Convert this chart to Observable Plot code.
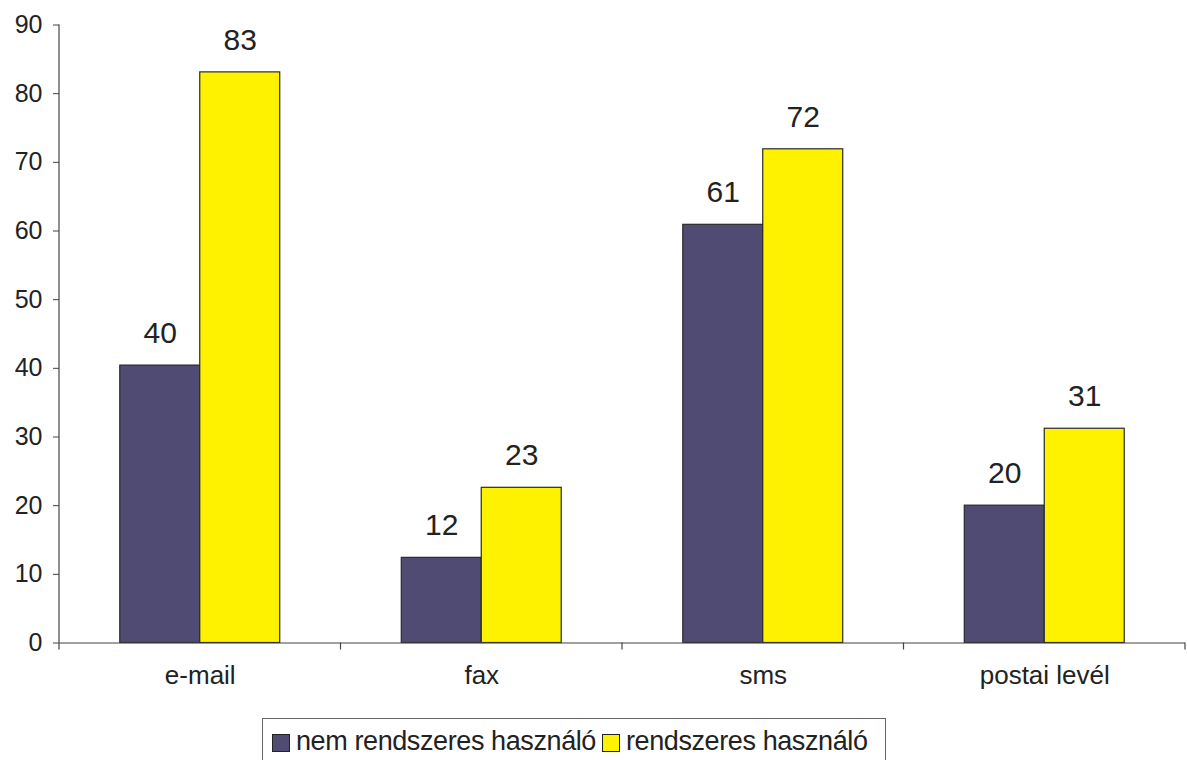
<!DOCTYPE html>
<html>
<head>
<meta charset="utf-8">
<script src="https://cdn.jsdelivr.net/npm/d3@7"></script>
<script src="https://cdn.jsdelivr.net/npm/@observablehq/plot@0.6"></script>
<style>
  body { margin: 0; background: #fff; font-family: "Liberation Sans", Arial, sans-serif; }
  #chart { width: 1187px; }
  .legend { position: absolute; left: 262px; top: 718px; width: 624px; height: 46px; border: 1px solid #666; box-sizing: border-box; display: flex; align-items: center; padding-left: 9px; font-size: 27px; color: #222; letter-spacing: -0.4px; white-space: nowrap; }
  .sw { display: inline-block; width: 16px; height: 16px; border: 1px solid #222; margin-right: 6px; margin-top: 4px; }
  .item { display: inline-flex; align-items: center; margin-right: 6px; }
</style>
</head>
<body>
<div id="chart"></div>
<script>
const categories = ["e-mail", "fax", "sms", "postai levél"];
const series = ["nem rendszeres használó", "rendszeres használó"];
const nemRendszeres = [40.4, 12.4, 60.9, 20.0];
const rendszeres = [83.1, 22.6, 71.9, 31.2];
const colors = ["#4f4b72", "#fff200"];
const yTicks = [0, 10, 20, 30, 40, 50, 60, 70, 80, 90];

const data = [];
categories.forEach((c, i) => {
  data.push({category: c, series: series[0], value: nemRendszeres[i]});
  data.push({category: c, series: series[1], value: rendszeres[i]});
});

const plot = Plot.plot({
  width: 1187,
  height: 705,
  marginLeft: 59,
  marginRight: 2,
  marginTop: 24.5,
  marginBottom: 62.5,
  style: {fontFamily: "'Liberation Sans', Arial, sans-serif", color: "#222", background: "#fff"},
  fx: {domain: categories, padding: 0, round: false, label: null, axis: null},
  x: {domain: series, paddingInner: 0, paddingOuter: 0.76, round: false, axis: null},
  y: {domain: [0, 90], label: null},
  color: {domain: series, range: colors},
  marks: [
    Plot.barY(data, {fx: "category", x: "series", y: "value", fill: "series", stroke: "#2a2a2a", strokeWidth: 1.2}),
    Plot.text(data, {fx: "category", x: "series", y: "value", text: d => String(Math.round(d.value)), dy: -32, fontSize: 30, fill: "#222", lineAnchor: "middle"}),
    Plot.ruleY([0], {stroke: "#444", strokeWidth: 1.2}),
    Plot.axisY({ticks: yTicks, tickSize: 6, tickPadding: 11, fontSize: 25, stroke: "#444", tickFormat: d => String(d)}),
    Plot.axisFx({anchor: "bottom", tickSize: 0, tickPadding: 23, fontSize: 26, label: null})
  ]
});

document.getElementById("chart").appendChild(plot);

// axis line and category boundary ticks from the library's scales
const fx = plot.scale("fx");
const y = plot.scale("y");
const svg = d3.select(plot);
const g = svg.append("g").attr("stroke", "#444").attr("stroke-width", 1.2);
const x0 = fx.apply(categories[0]);
g.append("line").attr("x1", x0).attr("x2", x0).attr("y1", y.apply(90)).attr("y2", y.apply(0));
const bounds = categories.map(c => fx.apply(c)).concat([fx.apply(categories[categories.length - 1]) + fx.bandwidth]);
bounds.forEach(b => {
  g.append("line").attr("x1", b).attr("x2", b).attr("y1", y.apply(0)).attr("y2", y.apply(0) + 7);
});

// legend
const legend = document.createElement("div");
legend.className = "legend";
series.forEach((s, i) => {
  const item = document.createElement("span");
  item.className = "item";
  const sw = document.createElement("span");
  sw.className = "sw";
  sw.style.background = colors[i];
  item.appendChild(sw);
  item.appendChild(document.createTextNode(s));
  legend.appendChild(item);
});
document.body.appendChild(legend);
</script>
</body>
</html>
